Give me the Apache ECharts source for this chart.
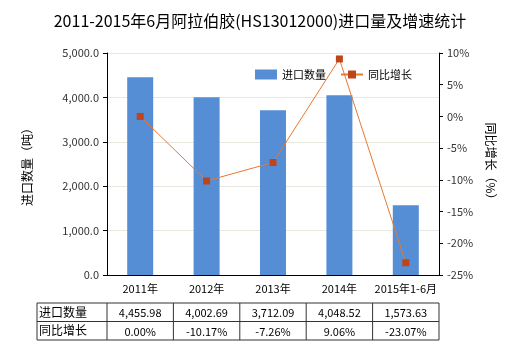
<!DOCTYPE html>
<html><head><meta charset="utf-8">
<script src="https://cdn.jsdelivr.net/npm/echarts@6/dist/echarts.min.js"></script>
<style>html,body{margin:0;padding:0;background:#fff}#c{width:520px;height:350px}</style>
</head><body><div id="c"></div>
<script>
var categories = ['2011年','2012年','2013年','2014年','2015年1-6月'];
var importQty = [4455.98, 4002.69, 3712.09, 4048.52, 1573.63];
var growth = [0.00, -10.17, -7.26, 9.06, -23.07];
var qtyLabels = ['4,455.98','4,002.69','3,712.09','4,048.52','1,573.63'];
var growthLabels = ['0.00%','-10.17%','-7.26%','9.06%','-23.07%'];
var font = '"Microsoft YaHei","Noto Sans CJK SC",sans-serif';
var chart = echarts.init(document.getElementById('c'));
chart.setOption({
  animation:false,
  textStyle:{fontFamily:font},
  title:{text:'2011-2015年6月阿拉伯胶(HS13012000)进口量及增速统计',left:'center',top:8,
    textStyle:{fontSize:16,fontWeight:'normal',color:'#000',fontFamily:font}},
  legend:{top:64,left:250,itemWidth:22,itemHeight:10,itemGap:14,
    textStyle:{fontSize:11,color:'#000'},
    data:[{name:'进口数量',icon:'rect'},{name:'同比增长'}]},
  grid:{left:107,right:81,top:53,bottom:75},
  xAxis:{type:'category',data:categories,
    axisLine:{lineStyle:{color:'#000'}},
    axisTick:{alignWithLabel:true,length:4,lineStyle:{color:'#000'}},
    axisLabel:{color:'#000',fontSize:11,margin:8,interval:0}},
  yAxis:[{type:'value',min:0,max:5000,interval:1000,name:'进口数量（吨）',nameLocation:'middle',nameGap:74,nameRotate:90,
    nameTextStyle:{fontSize:12,color:'#000'},
    axisLine:{show:true,lineStyle:{color:'#000'}},axisTick:{show:true,length:4,lineStyle:{color:'#000'}},
    axisLabel:{color:'#333',fontSize:11,formatter:function(v){return v.toLocaleString('en-US',{minimumFractionDigits:1,maximumFractionDigits:1});}},
    splitLine:{lineStyle:{color:'#e8e8e0'}}},
   {type:'value',min:-25,max:10,interval:5,name:'同比增长（%）',nameLocation:'middle',nameGap:46,nameRotate:-90,
    nameTextStyle:{fontSize:12,color:'#000'},
    axisLine:{show:true,lineStyle:{color:'#000'}},axisTick:{show:true,length:4,lineStyle:{color:'#000'}},
    axisLabel:{color:'#333',fontSize:11,formatter:'{value}%'},splitLine:{show:false}}],
  series:[{name:'进口数量',type:'bar',data:importQty,barWidth:26,itemStyle:{color:'#558ED5'}},
    {name:'同比增长',type:'line',yAxisIndex:1,data:growth,symbol:'rect',symbolSize:7,
     lineStyle:{color:'#E8782F',width:1},itemStyle:{color:'#C0441A'}}]
});
// table below chart
var g=[];
var cx=categories.map(function(c,i){return chart.convertToPixel({xAxisIndex:0},i);});
var band=cx[1]-cx[0];
var xEnd=cx[cx.length-1]+band/2, xStart=37;
var rows=[{label:'进口数量',vals:qtyLabels},{label:'同比增长',vals:growthLabels}];
var yTop=303,rh=18.5;
var lc='#333';
g.push({type:'rect',shape:{x:xStart,y:yTop,width:xEnd-xStart,height:rh*2},style:{fill:'none',stroke:lc,lineWidth:1}});
g.push({type:'line',shape:{x1:xStart,y1:yTop+rh,x2:xEnd,y2:yTop+rh},style:{stroke:lc,lineWidth:1}});
for(var i=0;i<=cx.length-1;i++){var xx=cx[i]-band/2;g.push({type:'line',shape:{x1:xx,y1:yTop,x2:xx,y2:yTop+rh*2},style:{stroke:lc,lineWidth:1}});}
rows.forEach(function(r,ri){
  var yc=yTop+rh*ri+rh/2;
  g.push({type:'text',style:{text:r.label,x:xStart+2,y:yc,textVerticalAlign:'middle',textAlign:'left',fontSize:12,fill:'#000',fontFamily:font}});
  r.vals.forEach(function(v,i){g.push({type:'text',style:{text:v,x:cx[i],y:yc+1,textVerticalAlign:'middle',textAlign:'center',fontSize:11,fill:'#000',fontFamily:font}});});
});
chart.setOption({graphic:g});
</script></body></html>
